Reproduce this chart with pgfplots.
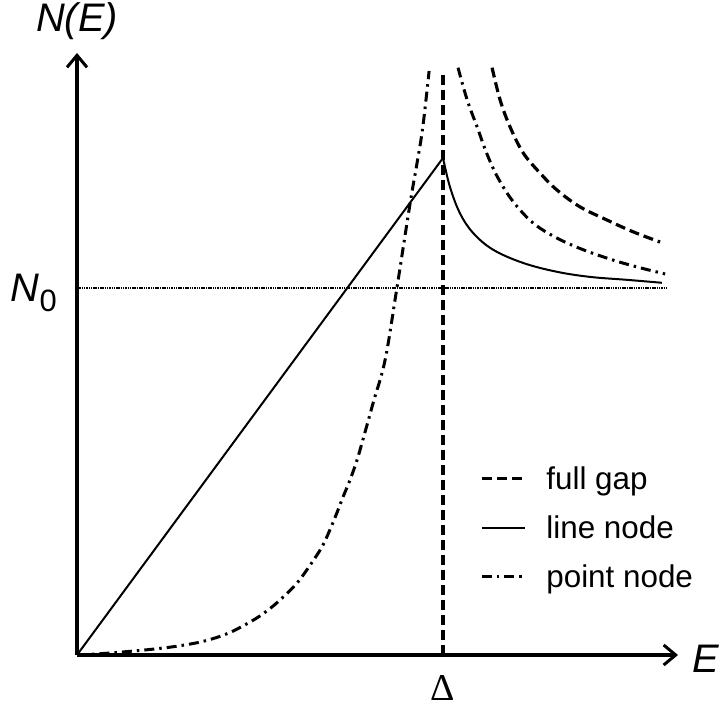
\documentclass[border=0pt]{standalone}
\usepackage{pgfplots}
\pgfplotsset{compat=1.18}
\usepackage{fontspec}
\setmainfont{Liberation Sans}
\newfontfamily\seriffont{Liberation Serif}
\usetikzlibrary{arrows.meta}

% line styles of the three density-of-states curves
\tikzset{
  fullgap/.style={line width=3.2bp, dash pattern=on 10bp off 5bp},
  linenode/.style={line width=2bp},
  pointnode/.style={line width=3bp, dash pattern=on 10bp off 5bp on 2.5bp off 5bp},
}

\begin{document}
\begin{tikzpicture}
\useasboundingbox (0,0) rectangle (720bp,708bp);
\begin{axis}[
  at={(77bp,53bp)}, anchor=south west,
  scale only axis, width=601bp, height=602bp,
  xmin=0, xmax=1.642, ymin=0, ymax=1.64,
  axis lines=left,
  axis line style={line width=3bp, -{Straight Barb[length=12bp,width=20bp,line width=3bp]}},
  xtick={1}, xticklabels={{\fontsize{38}{38}\seriffont Δ}},
  ytick={1}, yticklabels={{\fontsize{40}{40}\selectfont\itshape N}\raisebox{-10bp}{\fontsize{31}{31}\selectfont 0}},
  major tick length=0pt,
  x tick label style={anchor=base, inner sep=0pt, yshift=-45bp},
  y tick label style={anchor=base east, inner sep=0pt, xshift=-20bp, yshift=-14bp},
  every axis y label/.style={at={(rel axis cs:0,1)}, anchor=base, yshift=21bp,
    font=\fontsize{40}{40}\selectfont\itshape},
  every axis x label/.style={at={(rel axis cs:1,0)}, anchor=base west, xshift=11bp, yshift=-17bp,
    font=\fontsize{40}{40}\selectfont\itshape},
  ylabel={N(E)}, xlabel={E},
  clip=false,
  legend cell align=left,
  legend image code/.code={\draw[#1] (0bp,0bp) -- (43bp,0bp); \path (61bp,0bp);},
  legend style={at={(axis cs:1.101,0.52)}, anchor=north west, draw=none, fill=none,
    font=\fontsize{31.5}{31.5}\selectfont, row sep=21bp, inner sep=0pt},
]

% normal-state level N0
\addplot[line width=2.2bp, dash pattern=on 1.5bp off 0.8bp, forget plot]
  coordinates {(0,1) (1.61,1)};

% full gap: edge at Delta and the coherence peak above it
\addplot[fullgap, forget plot] coordinates {(1,0) (1,1.59)};
\addplot[fullgap, smooth, tension=0.6] coordinates {
  (1.134,1.600) (1.156,1.512) (1.183,1.439) (1.219,1.368) (1.265,1.313)
  (1.311,1.267) (1.374,1.221) (1.448,1.185) (1.519,1.153) (1.593,1.125)};
\addlegendentry{full gap}

% line node: linear rise up to Delta, then decay towards N0
\addplot[linenode] coordinates {(0,0) (1,1.354)};
\addlegendentry{line node}
\addplot[linenode, smooth, tension=0.6, forget plot] coordinates {
  (1.000,1.354) (1.019,1.275) (1.046,1.204) (1.082,1.150) (1.137,1.104)
  (1.219,1.068) (1.311,1.044) (1.402,1.030) (1.503,1.022) (1.598,1.014)};

% point node: slow rise below Delta, divergence around it
\addplot[pointnode, smooth, tension=0.6] coordinates {
  (0,0) (0.071,0.004) (0.145,0.010) (0.208,0.016) (0.273,0.024) (0.344,0.037)
  (0.410,0.058) (0.464,0.085) (0.508,0.112) (0.555,0.150) (0.601,0.196)
  (0.637,0.245) (0.669,0.294) (0.691,0.341) (0.710,0.387) (0.727,0.431)
  (0.746,0.477) (0.765,0.531) (0.781,0.586) (0.810,0.690) (0.842,0.805)
  (0.874,1.000) (0.910,1.230) (0.929,1.340) (0.945,1.440) (0.962,1.591)};
\addlegendentry{point node}
\addplot[pointnode, smooth, tension=0.6, forget plot] coordinates {
  (1.041,1.600) (1.066,1.512) (1.093,1.439) (1.120,1.365) (1.150,1.300)
  (1.191,1.236) (1.246,1.177) (1.311,1.136) (1.383,1.104) (1.464,1.076)
  (1.538,1.055) (1.607,1.038)};
\end{axis}
\end{tikzpicture}
\end{document}
